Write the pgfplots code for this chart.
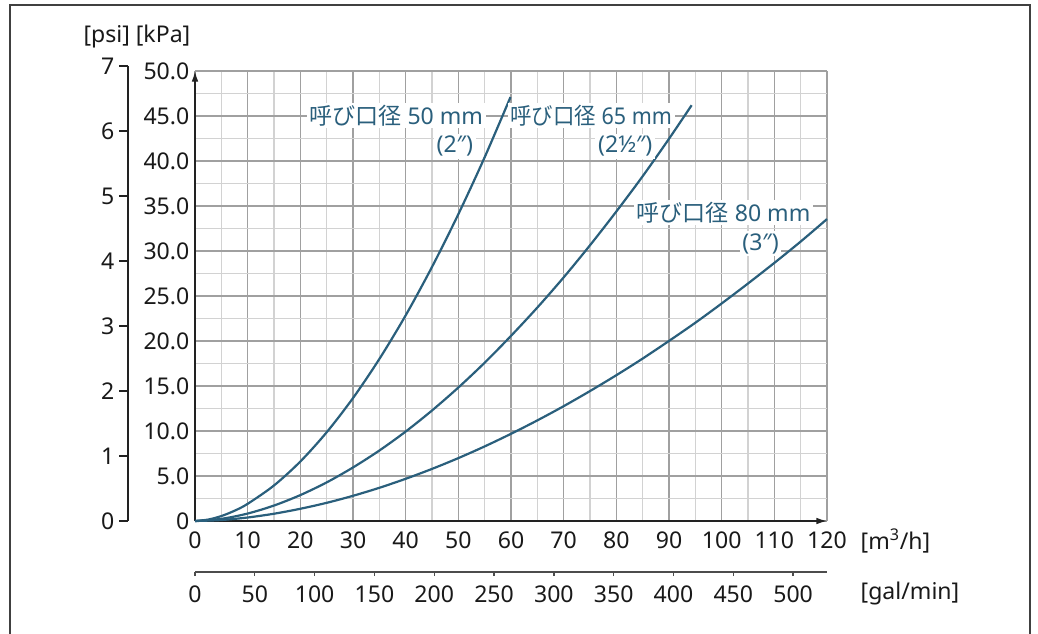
\documentclass[border=0pt]{standalone}
\usepackage{fontspec}
\usepackage{graphicx}
\setmainfont{Noto Sans}
\newfontfamily\cjk{Noto Sans CJK JP}
\usepackage{pgfplots}
\pgfplotsset{compat=1.18}
\usetikzlibrary{arrows.meta}
\definecolor{curve}{HTML}{2A5F7C}
\definecolor{majgrid}{HTML}{A0A0A0}
\definecolor{mingrid}{HTML}{D2D2D2}
\definecolor{axisgray}{HTML}{222222}
\def\pxu{0.75pt}
\newcommand\fs{\fontsize{17.3}{21}\selectfont}
\begin{document}
\begin{tikzpicture}[font=\fs]
\useasboundingbox (0,0) rectangle (1038*\pxu,-633*\pxu);
\draw[line width=1.5pt, color=black!75] (9.5*\pxu,-650*\pxu) -- (9.5*\pxu,-4.5*\pxu) -- (1029.5*\pxu,-4.5*\pxu) -- (1029.5*\pxu,-650*\pxu);

% main axis
\begin{axis}[
  at={(195*\pxu,-521*\pxu)}, anchor=south west,
  scale only axis, width=632*\pxu, height=450*\pxu,
  xmin=0, xmax=120, ymin=0, ymax=50,
  axis x line=bottom, axis y line=left,
  x axis line style={-{Latex[length=8pt,width=5pt]}, line width=1pt, axisgray},
  y axis line style={-{Latex[length=8pt,width=5pt]}, line width=1pt, axisgray},
  xtick={0,10,...,120}, ytick={0,5,...,50},
  yticklabels={0,5.0,10.0,15.0,20.0,25.0,30.0,35.0,40.0,45.0,50.0},
  minor xtick={5,15,...,115}, minor ytick={2.5,7.5,...,47.5},
  grid=both,
  major grid style={majgrid, line width=1pt},
  minor grid style={mingrid, line width=1pt},
  major tick length=0pt, minor tick length=0pt,
  /pgf/number format/assume math mode=true,
  ticklabel style={font=\fs, text=black!90},
  xticklabel style={yshift=-6*\pxu},
  yticklabel style={xshift=-1*\pxu},
  clip=false,
]
\addplot[curve, line width=1.65pt, smooth] coordinates {
(0,0) (2.5,0.16) (5,0.55) (7.5,1.14) (10,1.91) (15,3.95) (20,6.61) (25,9.86) (30,13.66) (35,18.0) (40,22.85) (45,28.23) (50,34.09) (55,40.42) (59.9,47.1)};
\addplot[curve, line width=1.65pt, smooth] coordinates {
(0,0) (5,0.24) (10,0.83) (15,1.72) (20,2.88) (25,4.29) (30,5.95) (35,7.83) (40,9.94) (45,12.28) (50,14.83) (55,17.59) (60,20.57) (65,23.72) (70,27.07) (75,30.64) (80,34.39) (85,38.31) (90,42.47) (94.3,46.2)};
\addplot[curve, line width=1.65pt, smooth] coordinates {
(0,0) (5,0.11) (10,0.39) (15,0.81) (20,1.36) (25,2.02) (30,2.80) (35,3.69) (40,4.69) (45,5.79) (50,6.99) (55,8.29) (60,9.69) (65,11.18) (70,12.76) (75,14.44) (80,16.20) (85,18.05) (90,20.01) (95,22.03) (100,24.17) (105,26.39) (110,28.68) (115,31.05) (120,33.55)};
\tikzset{lab/.style={anchor=base east, fill=white, text=curve, inner xsep=2pt, inner ysep=1.5pt}}
\node[lab] at (axis cs:55.25,44.06) {{\cjk 呼び口径} 50 mm};
\node[lab] at (axis cs:53.35,40.9) {(2″)};
\node[lab] at (axis cs:91.1,44.06) {\scalebox{0.93}[1]{{\cjk 呼び口径} 65 mm}};
\node[lab] at (axis cs:87.4,40.9) {(2½″)};
\node[lab] at (axis cs:117.4,33.33) {{\cjk 呼び口径} 80 mm};
\node[lab] at (axis cs:111.4,30.1) {(3″)};
\end{axis}

% psi axis
\begin{axis}[
  at={(128*\pxu,-521*\pxu)}, anchor=south west,
  scale only axis, width=10pt, height=455*\pxu,
  xmin=0, xmax=1, ymin=0, ymax=7,
  hide x axis, axis y line=left,
  y axis line style={-, line width=1pt, axisgray},
  ytick={0,1,...,7}, tick align=outside, ytick pos=left,
  major tick length=9*\pxu,
  tick style={line width=1pt, axisgray},
  /pgf/number format/assume math mode=true,
  ticklabel style={font=\fs, text=black!90},
]
\addplot[draw=none] coordinates {(0,0)};
\end{axis}

% gal/min axis
\begin{axis}[
  at={(195*\pxu,-572*\pxu)}, anchor=south west,
  scale only axis, width=632*\pxu, height=10pt,
  xmin=0, xmax=528.34, ymin=0, ymax=1,
  hide y axis, axis x line=bottom,
  x axis line style={-, line width=1pt, black!70},
  xtick={0,50,...,500}, tick align=outside, xtick pos=bottom,
  major tick length=4*\pxu,
  tick style={line width=1pt, black!70},
  /pgf/number format/assume math mode=true,
  ticklabel style={font=\fs, text=black!90},
  xticklabel style={yshift=-5*\pxu},
]
\addplot[draw=none] coordinates {(0,0)};
\end{axis}

\node[anchor=base east, text=black!90] at (195*\pxu,-42*\pxu) {[psi] [kPa]};
\node[anchor=west, text=black!90] at (856*\pxu,-541*\pxu) {[m\textsuperscript{3}/h]};
\node[anchor=west, text=black!90] at (856*\pxu,-593*\pxu) {[gal/min]};
\end{tikzpicture}
\end{document}
